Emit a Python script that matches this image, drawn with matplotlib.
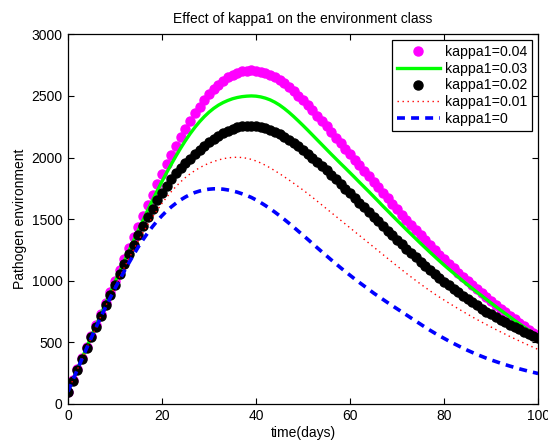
import numpy as np
import matplotlib
matplotlib.use("Agg")
import matplotlib.pyplot as plt

plt.rcParams['font.family'] = ['Liberation Sans', 'DejaVu Sans']

# time grid (days) and pathogen level in the environment
days = np.arange(0, 101)

env_k004 = [100, 191, 282, 373, 463, 553, 643, 733, 822, 911,
            1000, 1089, 1177, 1265, 1353, 1440, 1527, 1613, 1698, 1782,
            1864, 1944, 2021, 2095, 2166, 2234, 2298, 2358, 2414, 2466,
            2513, 2555, 2592, 2624, 2651, 2672, 2688, 2699, 2705, 2707,
            2704, 2697, 2686, 2671, 2652, 2629, 2602, 2572, 2539, 2503,
            2465, 2425, 2383, 2340, 2296, 2252, 2207, 2162, 2117, 2072,
            2027, 1982, 1937, 1892, 1847, 1802, 1757, 1712, 1668, 1624,
            1580, 1537, 1494, 1452, 1410, 1369, 1329, 1289, 1250, 1211,
            1173, 1136, 1100, 1065, 1030, 996, 963, 930, 898, 866,
            835, 804, 774, 744, 715, 686, 658, 630, 603, 576,
            550]

env_k003 = [100, 190, 281, 371, 461, 550, 639, 727, 815, 902,
            989, 1075, 1160, 1245, 1329, 1412, 1494, 1575, 1654, 1731,
            1806, 1878, 1947, 2014, 2078, 2138, 2194, 2245, 2291, 2332,
            2368, 2399, 2425, 2446, 2463, 2477, 2487, 2494, 2498, 2500,
            2498, 2492, 2482, 2468, 2449, 2426, 2398, 2367, 2333, 2297,
            2260, 2222, 2183, 2144, 2105, 2066, 2027, 1989, 1951, 1914,
            1876, 1838, 1799, 1761, 1723, 1684, 1645, 1605, 1567, 1528,
            1490, 1452, 1414, 1377, 1340, 1303, 1267, 1231, 1196, 1161,
            1127, 1094, 1062, 1030, 998, 967, 937, 907, 878, 848,
            819, 790, 762, 734, 706, 678, 651, 624, 598, 572,
            547]

env_k002 = [100, 189, 278, 366, 454, 541, 628, 714, 800, 885,
            969, 1052, 1134, 1214, 1293, 1370, 1445, 1517, 1586, 1652,
            1714, 1772, 1824, 1871, 1914, 1954, 1992, 2028, 2062, 2094,
            2124, 2152, 2177, 2199, 2218, 2233, 2245, 2253, 2257, 2258,
            2255, 2249, 2239, 2226, 2210, 2191, 2169, 2145, 2119, 2091,
            2061, 2030, 1998, 1965, 1931, 1896, 1860, 1823, 1786, 1748,
            1710, 1672, 1634, 1596, 1558, 1520, 1482, 1444, 1406, 1369,
            1332, 1296, 1260, 1225, 1190, 1156, 1122, 1089, 1056, 1024,
            993, 963, 934, 905, 877, 850, 824, 799, 774, 750,
            727, 705, 684, 663, 643, 624, 605, 587, 570, 553,
            537]

env_k001 = [100, 190, 279, 367, 455, 541, 626, 710, 793, 874,
            954, 1032, 1108, 1183, 1255, 1325, 1392, 1456, 1517, 1574,
            1628, 1678, 1724, 1766, 1804, 1838, 1868, 1894, 1917, 1937,
            1954, 1968, 1980, 1990, 1997, 2001, 2002, 2000, 1994, 1985,
            1972, 1956, 1937, 1916, 1893, 1869, 1844, 1818, 1791, 1764,
            1736, 1707, 1677, 1646, 1615, 1584, 1553, 1522, 1491, 1460,
            1429, 1398, 1367, 1336, 1305, 1274, 1243, 1212, 1181, 1150,
            1119, 1089, 1059, 1030, 1001, 973, 945, 918, 892, 867,
            843, 819, 796, 773, 750, 728, 706, 685, 664, 644,
            624, 604, 585, 566, 547, 529, 511, 493, 476, 459,
            442]

env_k000 = [100, 190, 279, 367, 454, 540, 624, 706, 786, 863,
            937, 1009, 1079, 1147, 1213, 1277, 1335, 1390, 1440, 1486,
            1528, 1566, 1600, 1630, 1657, 1680, 1700, 1716, 1728, 1737,
            1743, 1746, 1746, 1743, 1737, 1729, 1719, 1706, 1692, 1676,
            1656, 1634, 1610, 1584, 1557, 1528, 1498, 1467, 1435, 1402,
            1369, 1336, 1302, 1268, 1235, 1202, 1169, 1137, 1105, 1074,
            1044, 1014, 985, 957, 929, 900, 874, 848, 822, 797,
            772, 747, 722, 697, 672, 647, 622, 598, 575, 553,
            532, 511, 491, 472, 453, 435, 418, 401, 386, 371,
            357, 344, 331, 319, 307, 296, 285, 275, 265, 256,
            247]

labels = ['kappa1=0.04', 'kappa1=0.03', 'kappa1=0.02', 'kappa1=0.01', 'kappa1=0']

fig = plt.figure(figsize=(5.48, 4.40), dpi=100)
ax = fig.add_axes([0.124, 0.082, 0.858, 0.840])

ax.plot(days, env_k004, 'o', color='magenta', ms=6.5, mec='magenta', label=labels[0])
ax.plot(days, env_k003, '-', color=(0, 1, 0), lw=2.4, label=labels[1])
ax.plot(days, env_k002, 'o', color='black', ms=6.5, mec='black', label=labels[2])
ax.plot(days, env_k001, ':', color='red', lw=1.0, dashes=(1, 2.6), label=labels[3])
ax.plot(days, env_k000, '--', color='blue', lw=2.6, dashes=(2.2, 1.7), label=labels[4])

ax.set_xlim(0, 100)
ax.set_ylim(0, 3000)
ax.set_xticks([0, 20, 40, 60, 80, 100])
ax.set_yticks([0, 500, 1000, 1500, 2000, 2500, 3000])
ax.tick_params(direction='in', top=True, right=True, length=4, width=0.8,
               labelsize=10, pad=4)
for s in ax.spines.values():
    s.set_linewidth(0.9)

ax.set_title('Effect of kappa1 on the environment class', fontsize=10, pad=8)
ax.set_xlabel('time(days)', fontsize=10, labelpad=2)
ax.set_ylabel('Pathogen environment', fontsize=10, labelpad=3)

leg = ax.legend(loc='upper right', bbox_to_anchor=(0.987, 0.985), borderaxespad=0,
                fontsize=10.2, numpoints=1, handlelength=3.1, handletextpad=0.3,
                labelspacing=0.2, borderpad=0.35, fancybox=False,
                framealpha=1, edgecolor='black')
leg.get_frame().set_linewidth(0.9)

fig.savefig('out.png', dpi=100)
